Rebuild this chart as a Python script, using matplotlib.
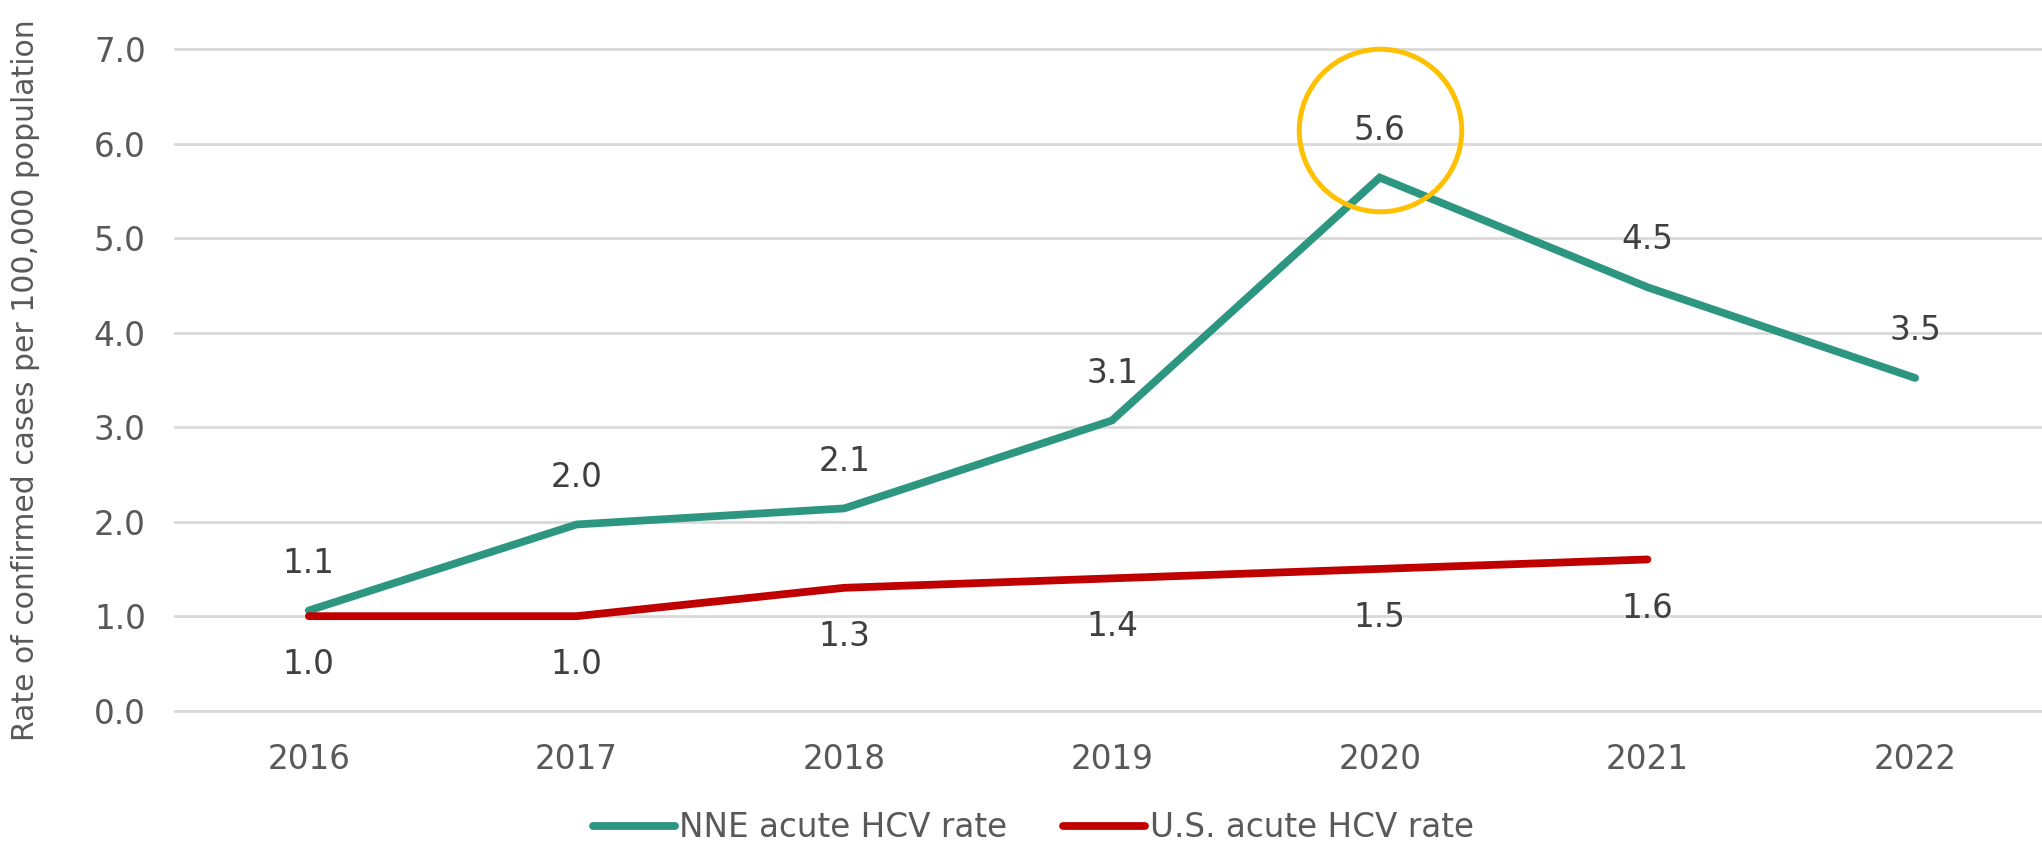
import numpy as np
import matplotlib.pyplot as plt
import matplotlib.transforms as mtransforms

years = ["2016", "2017", "2018", "2019", "2020", "2021", "2022"]
nne_rate = [1.06, 1.97, 2.14, 3.07, 5.64, 4.48, 3.52]
us_rate = [1.0, 1.0, 1.3, 1.4, 1.5, 1.6]
highlight_year = "2020"

green = "#2C9681"
red = "#C00000"
gold = "#FFC000"

fig = plt.figure(figsize=(20.42, 8.49), dpi=100)
ax = fig.add_axes([0.0857, 0.1629, 0.9177, 0.7794])

x = np.arange(len(years))
ax.plot(x, nne_rate, color=green, lw=5.6, solid_capstyle="round",
        solid_joinstyle="miter", label="NNE acute HCV rate", zorder=3)
ax.plot(x[:len(us_rate)], us_rate, color=red, lw=5.6, solid_capstyle="round",
        label="U.S. acute HCV rate", zorder=3)

# data labels: NNE above the line, U.S. below
for xi, v in zip(x, nne_rate):
    ax.annotate(f"{v:.1f}", (xi, v), xytext=(0, 34), textcoords="offset points",
                ha="center", va="center", fontsize=23.5, color="#404040")
for xi, v in zip(x, us_rate):
    ax.annotate(f"{v:.1f}", (xi, v), xytext=(0, -35), textcoords="offset points",
                ha="center", va="center", fontsize=23.5, color="#404040")

# ring around the peak label
hi = years.index(highlight_year)
ring_tr = mtransforms.offset_copy(ax.transData, fig=fig, x=0, y=34, units="points")
ax.plot(x[hi], nne_rate[hi], marker="o", ms=117, mfc="none", mec=gold, mew=3.6,
        transform=ring_tr, zorder=4, clip_on=False)

ax.set_ylim(0, 7)
ax.set_xlim(-0.5, len(years) - 0.5)
ax.set_yticks(np.arange(0, 8, 1.0))
ax.set_yticklabels([f"{t:.1f}" for t in np.arange(0, 8, 1.0)])
ax.set_xticks(x)
ax.set_xticklabels(years)
ax.tick_params(axis="both", length=0, labelsize=23.5, colors="#595959")
ax.tick_params(axis="y", pad=21)
ax.tick_params(axis="x", pad=23)
ax.grid(axis="y", color="#D9D9D9", lw=2)
for gl in ax.get_ygridlines():
    gl.set_clip_on(False)
ax.set_axisbelow(True)
for s in ax.spines.values():
    s.set_visible(False)

ax.set_ylabel("Rate of confirmed cases per 100,000 population", fontsize=21.5,
              color="#595959")
ax.yaxis.set_label_coords(-0.072, 0.5)

fig.legend(loc="center", bbox_to_anchor=(0.506, 0.025), ncol=2, frameon=False,
           fontsize=23.5, handlelength=2.5, handletextpad=0.15, columnspacing=1.7,
           labelcolor="#595959")

fig.savefig("out.png", dpi=100)
